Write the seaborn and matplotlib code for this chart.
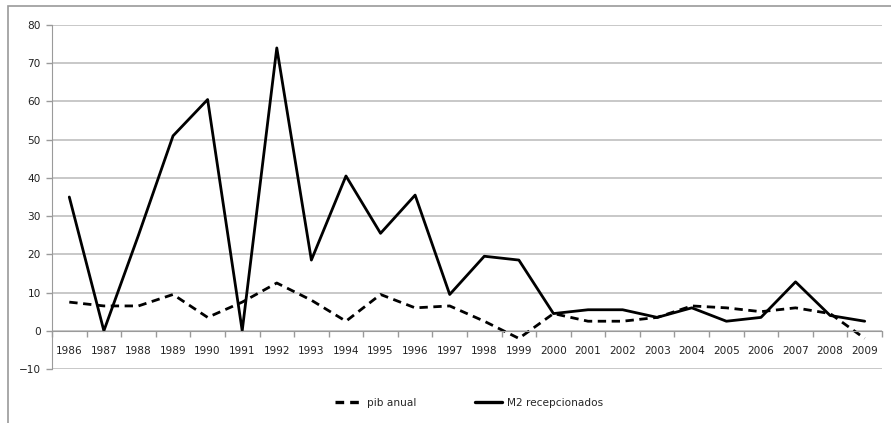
import numpy as np
import pandas as pd
import matplotlib
matplotlib.use("Agg")
import matplotlib.pyplot as plt
import seaborn as sns
from matplotlib.lines import Line2D
from matplotlib.patches import Rectangle

years = list(range(1986, 2010))
pib_anual = [7.5, 6.5, 6.5, 9.5, 3.5, 7.5, 12.5, 8, 2.5, 9.5, 6, 6.5,
             2.5, -2, 4.5, 2.5, 2.5, 3.5, 6.5, 6, 5, 6, 4.5, -2]
m2_recep = [35, 0, 25, 51, 60.5, 0, 74, 18.5, 40.5, 25.5, 35.5, 9.5,
            19.5, 18.5, 4.5, 5.5, 5.5, 3.5, 6, 2.5, 3.5, 12.8, 4, 2.5]
series_names = ["pib anual", "M2 recepcionados"]
y_ticks = list(range(-10, 90, 10))

df = pd.DataFrame({
    "pos": list(range(len(years))) * 2,
    "valor": pib_anual + m2_recep,
    "serie": [series_names[0]] * len(years) + [series_names[1]] * len(years),
})

sns.set_style("white")
plt.rcParams["font.family"] = ["DejaVu Sans"]

fig = plt.figure(figsize=(8.91, 4.23), dpi=100)
ax = fig.add_axes([52 / 891, 1 - 369 / 423, 830 / 891, 344 / 423])

sns.lineplot(
    data=df, x="pos", y="valor", style="serie", style_order=series_names,
    dashes={series_names[0]: (3, 2), series_names[1]: ""},
    color="black", linewidth=2.0, ax=ax, legend=False,
)

ax.set_xlim(-0.5, len(years) - 0.5)
ax.set_ylim(-10, 80)
ax.set_yticks(y_ticks)
ax.yaxis.grid(True, color="#c8c8c8", linewidth=1.4)
ax.set_axisbelow(True)
ax.set_xlabel("")
ax.set_ylabel("")

# category axis crossing at zero
ax.spines["bottom"].set_position(("data", 0))
ax.spines["bottom"].set_color("#9a9a9a")
ax.spines["left"].set_color("#9a9a9a")
for s in ["top", "right"]:
    ax.spines[s].set_visible(False)
ax.set_xticks(range(len(years)))
ax.set_xticklabels([str(y) for y in years], fontsize=7.6, color="#222222")
ax.set_xticks(np.arange(-0.5, len(years), 1), minor=True)
ax.tick_params(axis="x", which="major", bottom=True, length=0, pad=11)
ax.tick_params(axis="x", which="minor", bottom=True, length=4, width=1,
               color="#9a9a9a", direction="out")
ax.tick_params(axis="y", left=True, length=4, width=1, color="#9a9a9a",
               labelsize=7.6, labelcolor="#222222", pad=4)

handles = [
    Line2D([], [], color="black", linewidth=2.4, linestyle=(0, (2.6, 1.8))),
    Line2D([], [], color="black", linewidth=2.4),
]
fig.legend(handles, series_names, loc="center", bbox_to_anchor=(469 / 891, 1 - 403 / 423),
           ncol=2, frameon=False, fontsize=7.6, handlelength=2.6, columnspacing=5.5,
           handletextpad=0.5)

# chart outer frame
fig.patches.append(Rectangle((8 / 891, -0.01), 1.0, 1 - 6 / 423 + 0.01,
                             transform=fig.transFigure, fill=False,
                             edgecolor="#9a9a9a", linewidth=1.2))

fig.savefig("out.png", dpi=100)
